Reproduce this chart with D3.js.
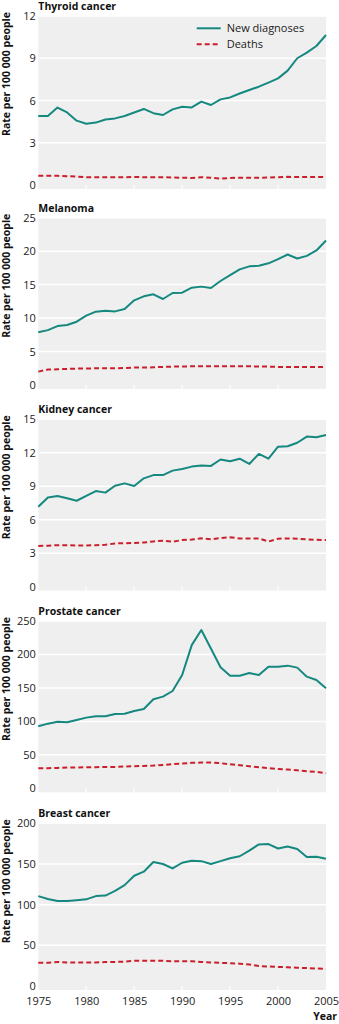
<!DOCTYPE html>
<html>
<head>
<meta charset="utf-8">
<script src="https://cdn.jsdelivr.net/npm/d3@7"></script>
<style>
  html, body { margin: 0; padding: 0; background: #ffffff; }
  svg { display: block; font-family: "Open Sans", "Noto Sans", sans-serif; }
</style>
</head>
<body>
<svg id="chart" width="339" height="1024"></svg>
<script>
// Incidence and mortality rates, 1975-2005 (rate per 100 000 people)
const years = d3.range(1975, 2006);
const yearTicks = [1975, 1980, 1985, 1990, 1995, 2000, 2005];

const thyroidNew = [4.9, 4.9, 5.5, 5.15, 4.57, 4.35, 4.43, 4.65, 4.73, 4.9, 5.15, 5.4, 5.1, 4.97, 5.37, 5.56, 5.51, 5.92, 5.68, 6.08, 6.22, 6.5, 6.75, 6.98, 7.27, 7.57, 8.12, 9.0, 9.4, 9.87, 10.65];
const thyroidDeaths = [0.65, 0.65, 0.65, 0.62, 0.6, 0.55, 0.55, 0.55, 0.55, 0.55, 0.57, 0.55, 0.55, 0.55, 0.53, 0.52, 0.5, 0.55, 0.52, 0.45, 0.5, 0.52, 0.52, 0.52, 0.53, 0.55, 0.58, 0.57, 0.57, 0.56, 0.56];

const melanomaNew = [7.87, 8.2, 8.8, 8.96, 9.46, 10.36, 10.96, 11.1, 11.0, 11.35, 12.65, 13.25, 13.55, 12.85, 13.75, 13.8, 14.54, 14.7, 14.5, 15.54, 16.43, 17.28, 17.73, 17.83, 18.18, 18.8, 19.5, 18.9, 19.3, 20.1, 21.6];
const melanomaDeaths = [2.0, 2.3, 2.35, 2.4, 2.45, 2.45, 2.5, 2.5, 2.5, 2.55, 2.6, 2.6, 2.65, 2.7, 2.75, 2.75, 2.8, 2.8, 2.8, 2.8, 2.8, 2.8, 2.8, 2.75, 2.75, 2.7, 2.7, 2.7, 2.7, 2.7, 2.7];

const kidneyNew = [7.17, 8.0, 8.13, 7.92, 7.7, 8.13, 8.57, 8.43, 9.05, 9.26, 9.02, 9.71, 10.0, 10.0, 10.4, 10.55, 10.76, 10.85, 10.82, 11.4, 11.24, 11.47, 11.0, 11.9, 11.47, 12.55, 12.58, 12.9, 13.45, 13.4, 13.6];
const kidneyDeaths = [3.65, 3.68, 3.72, 3.72, 3.68, 3.7, 3.72, 3.75, 3.88, 3.9, 3.92, 3.96, 4.05, 4.12, 4.03, 4.18, 4.22, 4.33, 4.24, 4.36, 4.42, 4.33, 4.33, 4.33, 4.05, 4.3, 4.33, 4.3, 4.24, 4.2, 4.18];

const prostateNew = [92.6, 96.6, 99.6, 98.6, 102, 105.6, 107.6, 107.6, 111, 111.5, 115.5, 118.5, 133, 137, 145.4, 169.3, 214, 236.5, 209, 180.8, 168.3, 168.3, 172.3, 169.3, 181.8, 181.8, 183.3, 180.3, 166.8, 161.9, 149.4];
const prostateDeaths = [30, 30, 30.5, 31, 31, 31.5, 31.5, 32, 32, 32.5, 33, 33.5, 34, 35, 36, 37, 38, 38.5, 38.5, 37.5, 36, 34.5, 33, 31.5, 30, 29, 28, 27, 25.5, 24.5, 22.5];

const breastNew = [110.5, 107, 104.5, 104.5, 105.5, 106.5, 110.5, 111.2, 117, 124, 135.5, 140.5, 152.5, 150, 144.5, 151.5, 154, 153.5, 150, 153.5, 157, 159.5, 166.5, 174, 174.5, 169, 171.5, 168.5, 158.5, 158.8, 156.5];
const breastDeaths = [28.5, 28.5, 29.5, 29, 29, 29, 29, 29.5, 29.5, 30, 31, 31, 31, 31, 30.5, 30.5, 30.5, 29.5, 29, 28.5, 28, 27.5, 26.5, 24.5, 24, 23.5, 23, 22.5, 22, 21.5, 21];

const panelTitles = ["Thyroid cancer", "Melanoma", "Kidney cancer", "Prostate cancer", "Breast cancer"];
const panelNew = [thyroidNew, melanomaNew, kidneyNew, prostateNew, breastNew];
const panelDeaths = [thyroidDeaths, melanomaDeaths, kidneyDeaths, prostateDeaths, breastDeaths];
const panelTicks = [
  [0, 3, 6, 9, 12],
  [0, 5, 10, 15, 20, 25],
  [0, 3, 6, 9, 12, 15],
  [0, 50, 100, 150, 200, 250],
  [0, 50, 100, 150, 200]
];
const seriesNames = ["New diagnoses", "Deaths"];
const yTitle = "Rate per 100 000 people";
const xTitle = "Year";

// Layout
const plotLeft = 38.3, plotRight = 326;
const panelTop = [16, 217.7, 419.3, 621, 823.3];
const panelBottom = [185, 385, 586.7, 788.3, 986];
const colNew = "#15887f";
const colDeaths = "#cc1f2c";
const bg = "#efefef";
const textCol = "#222";

const svg = d3.select("#chart");
const x = d3.scaleLinear().domain([1975, 2005]).range([plotLeft, plotRight]);

panelTitles.forEach((title, i) => {
  const ticks = panelTicks[i];
  const y = d3.scaleLinear().domain([0, d3.max(ticks)]).range([panelBottom[i], panelTop[i]]);
  const g = svg.append("g");

  // plot background, slightly extended below the zero line
  g.append("rect")
    .attr("x", plotLeft).attr("y", panelTop[i])
    .attr("width", plotRight - plotLeft)
    .attr("height", panelBottom[i] - panelTop[i] + 4)
    .attr("fill", bg);

  // horizontal gridlines
  g.selectAll("line.grid").data(ticks.filter(t => t > 0)).join("line")
    .attr("class", "grid")
    .attr("x1", plotLeft).attr("x2", plotRight)
    .attr("y1", d => y(d)).attr("y2", d => y(d))
    .attr("stroke", "#ffffff").attr("stroke-width", 1.5);

  // short white year ticks below the zero line
  g.selectAll("line.xt").data(yearTicks.slice(1, -1)).join("line")
    .attr("class", "xt")
    .attr("x1", d => x(d)).attr("x2", d => x(d))
    .attr("y1", panelBottom[i]).attr("y2", panelBottom[i] + 4)
    .attr("stroke", "#ffffff").attr("stroke-width", 1.2);

  // y axis labels
  const yAxis = d3.axisLeft(y).tickValues(ticks).tickSize(0).tickPadding(0);
  const ya = g.append("g").attr("transform", `translate(${plotLeft - 2.5},0)`).call(yAxis);
  ya.select(".domain").remove();
  ya.selectAll("text")
    .attr("font-size", 11).attr("fill", textCol)
    .attr("font-family", "'Open Sans', sans-serif");

  // panel title
  g.append("text")
    .attr("x", plotLeft).attr("y", panelTop[i] - 9.5).attr("dy", "0.35em")
    .attr("font-size", 10.5).attr("font-weight", "bold").attr("fill", "#111")
    .text(title);

  // y axis title
  g.append("text")
    .attr("transform", `translate(6.5,${panelTop[i] + 58}) rotate(-90)`)
    .attr("text-anchor", "middle").attr("dy", "0.35em")
    .attr("font-size", 10.5).attr("font-weight", "bold").attr("fill", "#111")
    .text(yTitle);

  const line = d3.line().x((d, k) => x(years[k])).y(d => y(d)).curve(d3.curveLinear);

  g.append("path").datum(panelDeaths[i])
    .attr("d", line).attr("fill", "none")
    .attr("stroke", colDeaths).attr("stroke-width", 2)
    .attr("stroke-dasharray", "5,3");

  g.append("path").datum(panelNew[i])
    .attr("d", line).attr("fill", "none")
    .attr("stroke", colNew).attr("stroke-width", 2)
    .attr("stroke-linejoin", "round");

  // x axis labels on the last panel only
  if (i === panelTitles.length - 1) {
    const xAxis = d3.axisBottom(x).tickValues(yearTicks).tickFormat(d3.format("d")).tickSize(0).tickPadding(0);
    const xa = g.append("g").attr("transform", `translate(0,${panelBottom[i] + 11})`).call(xAxis);
    xa.select(".domain").remove();
    xa.selectAll("text")
      .attr("font-size", 11).attr("fill", textCol)
      .attr("font-family", "'Open Sans', sans-serif");
    g.append("text")
      .attr("x", 337).attr("y", 1016.5).attr("dy", "0.35em")
      .attr("text-anchor", "end")
      .attr("font-size", 10.5).attr("font-weight", "bold").attr("fill", "#111")
      .text(xTitle);
  }
});

// legend in the first panel
const legend = svg.append("g");
const legendRows = [
  { name: seriesNames[0], color: colNew, dash: null, y: 28.3 },
  { name: seriesNames[1], color: colDeaths, dash: "5,3", y: 44.3 }
];
legendRows.forEach(r => {
  legend.append("line")
    .attr("x1", 196.7).attr("x2", 220.7)
    .attr("y1", r.y).attr("y2", r.y)
    .attr("stroke", r.color).attr("stroke-width", 2)
    .attr("stroke-dasharray", r.dash);
  legend.append("text")
    .attr("x", 226.7).attr("y", r.y).attr("dy", "0.35em")
    .attr("font-size", 11).attr("fill", textCol)
    .text(r.name);
});
</script>
</body>
</html>
